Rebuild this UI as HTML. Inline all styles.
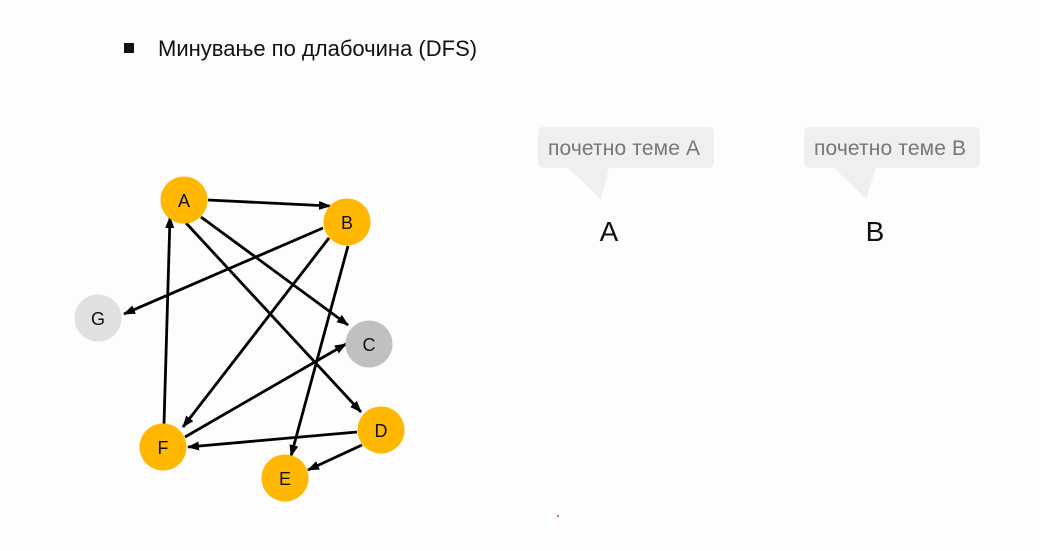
<!DOCTYPE html>
<html><head><meta charset="utf-8"><style>
html,body{margin:0;padding:0;background:#fdfcfe;}
body{width:1040px;height:551px;overflow:hidden;position:relative;font-family:"Liberation Sans",sans-serif;}
</style></head><body>
<svg width="1040" height="551" viewBox="0 0 1040 551" style="position:absolute;left:0;top:0">
<defs><marker id="ar" markerWidth="12" markerHeight="9" refX="11" refY="4.5" orient="auto" markerUnits="userSpaceOnUse"><path d="M0,0 L12,4.5 L0,9 z" fill="#000"/></marker></defs>
<rect x="124" y="43" width="10" height="10" fill="#111"/>
<text x="158" y="56" font-size="22" fill="#111" font-family="Liberation Sans, sans-serif">Минување по длабочина (DFS)</text>
<g stroke="#000" stroke-width="2.8" marker-end="url(#ar)" fill="none">
<line x1="208" y1="200" x2="330" y2="206"/>
<line x1="201" y1="217" x2="348" y2="325"/>
<line x1="186" y1="223" x2="361" y2="412"/>
<line x1="323" y1="228" x2="124" y2="314"/>
<line x1="329" y1="238" x2="183" y2="427"/>
<line x1="348" y1="246" x2="291" y2="456"/>
<line x1="164" y1="424" x2="170" y2="217"/>
<line x1="185" y1="437" x2="346" y2="344"/>
<line x1="357" y1="432" x2="188" y2="447"/>
<line x1="362" y1="445" x2="308" y2="470"/>
</g>
<g font-size="18" text-anchor="middle" fill="#111">
<circle cx="184" cy="200" r="23.5" fill="#ffb700"/><text x="184" y="207">A</text>
<circle cx="347" cy="222" r="23.5" fill="#ffb700"/><text x="347" y="229">B</text>
<circle cx="98" cy="318" r="23.5" fill="#e0e0e0"/><text x="98" y="325">G</text>
<circle cx="369" cy="344" r="23.5" fill="#c0bfc2"/><text x="369" y="351">C</text>
<circle cx="381" cy="430" r="23.5" fill="#ffb700"/><text x="381" y="437">D</text>
<circle cx="163" cy="447" r="23.5" fill="#ffb700"/><text x="163" y="454">F</text>
<circle cx="285" cy="478" r="23.5" fill="#ffb700"/><text x="285" y="485">E</text>
</g>
<g fill="#efefef">
<rect x="538" y="127" width="176" height="41" rx="5"/>
<path d="M567,167 L609,167 L601,199 z"/>
<rect x="804" y="127" width="176" height="41" rx="5"/>
<path d="M833,167 L876,167 L866,199 z"/>
</g>
<g font-size="21" fill="#777" font-family="Liberation Sans, sans-serif">
<text x="548" y="155" textLength="152">почетно теме A</text>
<text x="814" y="155" textLength="152">почетно теме B</text>
</g>
<g font-size="28" fill="#111" text-anchor="middle">
<text x="609" y="241">A</text>
<text x="875" y="241">B</text>
</g>
<circle cx="558" cy="516" r="1" fill="#d33"/>
</svg>
</body></html>
